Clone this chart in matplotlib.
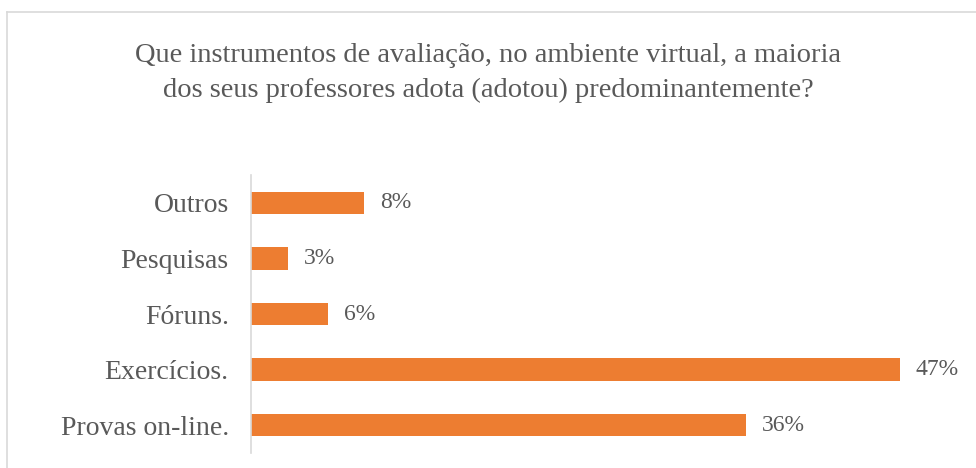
import matplotlib
matplotlib.use("Agg")
import matplotlib.pyplot as plt
from matplotlib.lines import Line2D

# data (bottom to top)
categories = ['Provas on-line.', 'Exercícios.', 'Fóruns.', 'Pesquisas', 'Outros']
values = [35.9, 47.0, 5.6, 2.7, 8.2]
labels = ['36%', '47%', '6%', '3%', '8%']

title_lines = ["Que instrumentos de avaliação, no ambiente virtual, a maioria",
               "dos seus professores adota (adotou) predominantemente?"]

orange = '#ED7D31'
grey_text = '#595959'
light = '#D9D9D9'

plt.rcParams['font.family'] = ['Liberation Serif', 'DejaVu Serif']

fig = plt.figure(figsize=(9.76, 4.68), dpi=100)
ax = fig.add_axes([251 / 976, 15 / 468, 690 / 976, 278 / 468])

y = range(len(categories))
ax.barh(y, values, height=0.4, color=orange)
for yi, v, lab in zip(y, values, labels):
    ax.text(v + 1.15, yi, lab, va='center', ha='left', fontsize=17, color=grey_text)

ax.set_xlim(0, 50)
ax.set_ylim(-0.5, len(categories) - 0.5)
ax.set_yticks(list(y))
ax.set_yticklabels(categories, fontsize=20, color=grey_text)
ax.tick_params(axis='y', length=0, pad=16)
ax.set_xticks([])
for side in ['top', 'right', 'bottom']:
    ax.spines[side].set_visible(False)
ax.spines['left'].set_color(light)
ax.spines['left'].set_linewidth(1.2)

# title, two centred lines
for line, base in zip(title_lines, [62, 97]):
    fig.text(0.5, 1 - base / 468, line, ha='center', va='baseline', fontsize=20.5,
             color=grey_text)

# chart area border (cropped on the right and bottom)
fig.add_artist(Line2D([7 / 976, 1], [1 - 12 / 468] * 2, color=light, lw=1.2,
                      transform=fig.transFigure))
fig.add_artist(Line2D([7 / 976] * 2, [0, 1 - 12 / 468], color=light, lw=1.2,
                      transform=fig.transFigure))

fig.savefig('out.png', dpi=100)
